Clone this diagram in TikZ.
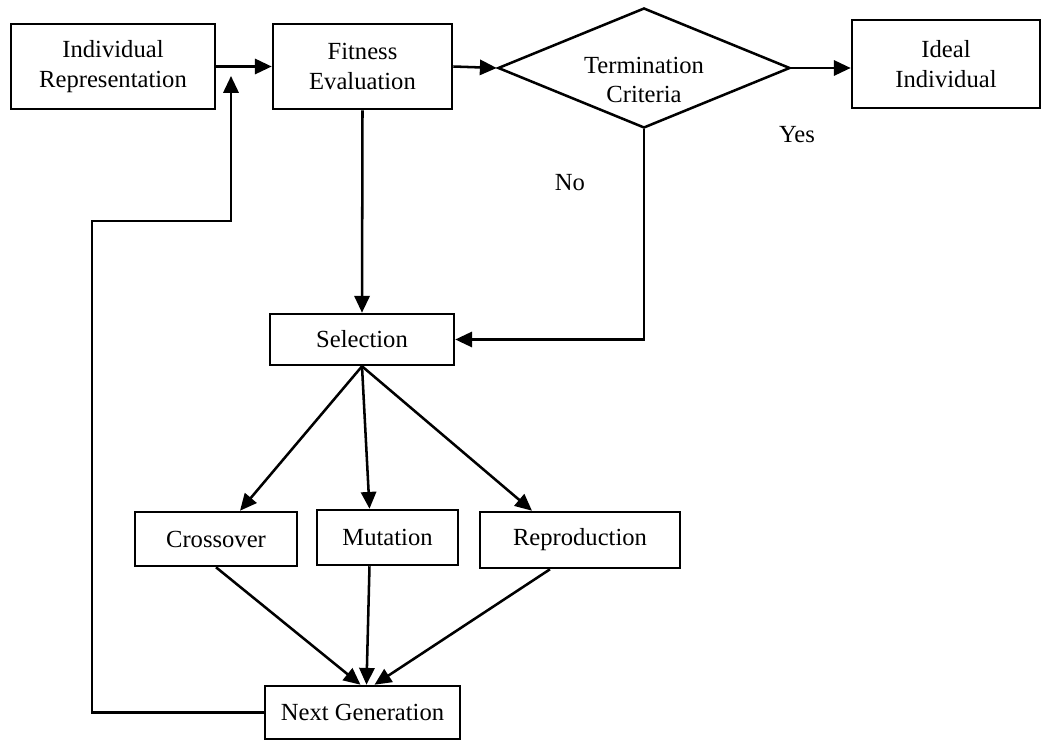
\documentclass[tikz,border=0pt]{standalone}
\usepackage{fontspec}
\setmainfont{Liberation Serif}
\usetikzlibrary{shapes.geometric,arrows.meta,positioning,calc}
\tikzset{
stepbox/.style={draw=black,line width=1.8pt,inner sep=0pt,align=center,font=\fontsize{17.5}{21}\selectfont},
decide/.style={draw=black,line width=1.8pt,diamond,aspect=2.43,inner sep=0pt,
minimum width=7.3cm,minimum height=3cm},
answer/.style={font=\fontsize{17.5}{21}\selectfont,align=center},
flow/.style={-{Triangle[length=4.2mm,width=3.8mm]},line width=1.8pt,black}
}

\begin{document}
\begin{tikzpicture}[x=0.025cm,y=-0.025cm]
\useasboundingbox (0,0) rectangle (1047,740);
% top row
\node[stepbox,minimum width=5.1cm,minimum height=2.125cm] (rep) at (113,66.5) {Individual\\Representation};
\node[stepbox,minimum width=4.475cm,minimum height=2.125cm] (fit) at (362.5,66.5) {Fitness\\Evaluation};
\node[decide] (term) at (644,68) {};
\node[answer] (termtext) at (644,80) {Termination\\Criteria};
\node[stepbox,minimum width=4.7cm,minimum height=2.2cm] (ideal) at (946,64) {Ideal\\Individual};
% middle
\node[stepbox,minimum width=4.6cm,minimum height=1.275cm] (sel) at (362,339.5) {Selection};
\node[stepbox,minimum width=4.05cm,minimum height=1.35cm] (cross) at (216,539) {Crossover};
\node[stepbox,minimum width=3.525cm,minimum height=1.375cm] (mut) at (387.5,537.5) {Mutation};
\node[stepbox,minimum width=5cm,minimum height=1.4cm] (repro) at (580,540) {Reproduction};
\node[stepbox,minimum width=4.875cm,minimum height=1.325cm] (next) at (362.5,712.5) {Next Generation};
% answers
\node[answer] (yes) at (797,135) {Yes};
\node[answer] (no) at (570,183) {No};
% loop back coordinates
\coordinate (turn) at (92,221);
\coordinate (join) at (231,76);

\draw[flow] (rep.east) -- (fit.west);
\draw[flow] (fit.east) -- (term.west);
\draw[flow] (term.east) -- (term.east -| ideal.west);
\draw[flow] (fit.south) -- (sel.north);
\draw[flow] (term.south) |- (sel.east);
\draw[flow] (sel.south) -- ([xshift=0.6cm]cross.north);
\draw[flow] (sel.south) -- ([xshift=-0.45cm]mut.north);
\draw[flow] (sel.south) -- ([xshift=-1.2cm]repro.north);
\draw[flow] (cross.south) -- ([xshift=-0.05cm]next.north);
\draw[flow] ([xshift=-0.45cm]mut.south) -- ([xshift=0.1cm]next.north);
\draw[flow] ([xshift=-0.75cm]repro.south) -- ([xshift=0.3cm]next.north);
\draw[flow] (next.west) -| (turn) -| (join);
\end{tikzpicture}
\end{document}
